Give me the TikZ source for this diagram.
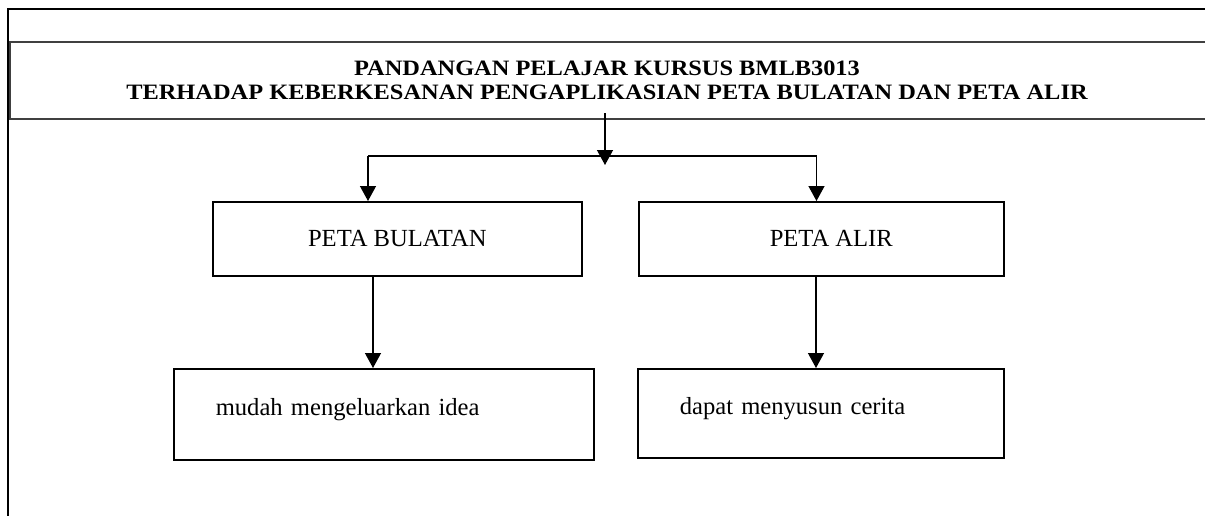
\documentclass[tikz,border=0pt]{standalone}
\usepackage{graphicx}
\usepackage{fontspec}
\setmainfont{Liberation Serif}
\usetikzlibrary{arrows.meta}
\newcommand{\headinglines}[2]{%
  \scalebox{1}[0.9]{\begin{tabular}{@{}c@{}}#1\\#2\end{tabular}}}
\begin{document}
\begin{tikzpicture}[x=0.5pt,y=-0.5pt,
  frame/.style={line width=1.1pt, line cap=rect},
  band/.style={line width=0.55pt, draw=black!75},
  box/.style={draw, line width=0.8pt, rectangle, anchor=north west, inner sep=0pt, font=\fontsize{12.3}{14}\selectfont},
  leftbox/.style={box, align=left, inner xsep=21pt},
  wire/.style={line width=0.65pt},
  link/.style={wire, -{Triangle[width=8pt,length=7.5pt]}},
  heading/.style={inner sep=0pt, font=\fontsize{12.2}{13.05}\selectfont\bfseries}
]
\useasboundingbox (0,0) rectangle (1205,515);

% outer page frame (top and left edges)
\draw[frame] (1205,9) -- (8,9) -- (8,515);

% title band
\draw[band] (1205,42) -- (10,42) -- (10,119) -- (1205,119);
\node[heading] (title) at (607,83)
  {\headinglines{PANDANGAN PELAJAR KURSUS BMLB3013}
   {TERHADAP KEBERKESANAN PENGAPLIKASIAN PETA BULATAN DAN PETA ALIR}};

% the two maps
\node[box, minimum width=184.5pt, minimum height=37pt] (bulatan) at (212,201) {PETA BULATAN};
\node[box, minimum width=182.5pt, minimum height=37pt] (alir) at (638,201) {\hspace*{10pt}PETA ALIR};

% outcomes
\node[leftbox, text width=168pt, minimum height=45.5pt] (idea) at (173,368)
  {\raisebox{2.2pt}[\height][\depth]{mudah mengeluarkan idea}};
\node[leftbox, text width=141pt, minimum height=44.5pt] (cerita) at (637,368)
  {\raisebox{2.2pt}[\height][\depth]{dapat menyusun cerita}};

% branching connector
\coordinate (drop) at (605,113);
\coordinate (droptip) at (605,165);
\coordinate (barL) at (368,156);
\coordinate (barR) at (816.5,156);
\draw[link] (drop) -- (droptip);
\draw[wire] (barL) -- (barR);
\draw[link] (barL) -- (barL |- bulatan.north);
\draw[link] (barR) -- (barR |- alir.north);

% map to outcome connectors
\path ([xshift=80.5pt]bulatan.south west) coordinate (s1);
\path ([xshift=89pt]alir.south west) coordinate (s2);
\draw[link] (s1) -- (s1 |- idea.north);
\draw[link] (s2) -- (s2 |- cerita.north);
\end{tikzpicture}
\end{document}
